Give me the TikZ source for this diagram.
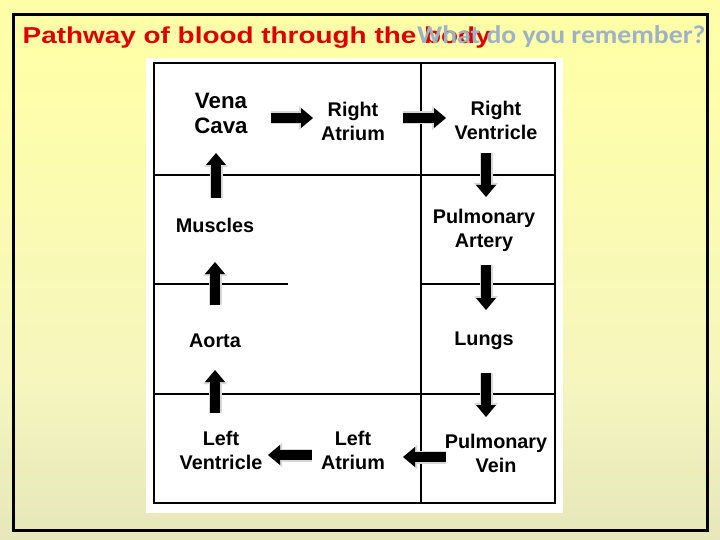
\documentclass[tikz,border=0pt]{standalone}
\usepackage{fontspec}
\setmainfont{Liberation Sans}
\newfontfamily\calib{Carlito}
\usetikzlibrary{arrows.meta}
\definecolor{bgtop}{RGB}{255,255,168}
\definecolor{bgmid}{RGB}{246,246,190}
\definecolor{bgbot}{RGB}{204,206,182}
\definecolor{titlered}{RGB}{222,0,0}
\definecolor{titlegray}{RGB}{158,178,198}
\definecolor{shadowgray}{RGB}{215,215,215}
\pgfdeclareverticalshading{bgshade}{100bp}{color(0bp)=(bgbot); color(40bp)=(bgmid); color(70bp)=(bgtop); color(100bp)=(bgtop)}
\tikzset{
  lbl/.style={font=\bfseries\fontsize{19.8}{24}\selectfont, align=center, inner sep=0pt},
  biglbl/.style={font=\bfseries\fontsize{22.3}{25}\selectfont, align=center, inner sep=0pt},
  grid/.style={line width=1.2pt, black},
  blkshadow/.style={line width=13pt, shadowgray, line cap=butt,
    -{Triangle[length=14pt,width=24pt,line width=0pt]}, shift={(1.5,1.5)}},
  blk/.style={line width=10pt, black, line cap=butt,
    -{Triangle[length=12pt,width=20pt,line width=0pt]}},
}
\newcommand{\blockarrow}[2]{%
  \draw[blkshadow] (#1) -- (#2);
  \draw[blk] (#1) -- (#2);}
\begin{document}
\begin{tikzpicture}[x=1pt,y=-1pt]
\useasboundingbox (0,0) rectangle (720,540);
\shade[shading=bgshade] (0,0) rectangle (720,540);
% outer frame
\draw[line width=3pt] (13.5,14.5) rectangle (707,530);
% title
\node[anchor=base west, inner sep=0pt, text=titlered, font=\bfseries\fontsize{23}{28}\selectfont] (title) at (22.5,43.3) {\scalebox{1.213}[1]{Pathway of blood through the body}};
\node[anchor=base west, inner sep=0pt, text=titlegray, font=\calib\bfseries\fontsize{25.5}{30}\selectfont] (subtitle) at (417,43.3) {\scalebox{1.087}[1]{What do you remember?}};
% white panel
\fill[white] (146,58) rectangle (563,513);
% table
\draw[grid] (154,63) rectangle (555,503);
\draw[grid] (421,63) -- (421,503);
\draw[grid] (154,175) -- (555,175);
\draw[grid] (154,284) -- (288,284);
\draw[grid] (421,284) -- (555,284);
\draw[grid] (154,394) -- (555,394);
% labels
\node[biglbl] (vc) at (221,113.5) {Vena\\Cava};
\node[lbl] (ra) at (353,121) {Right\\Atrium};
\node[lbl] (rv) at (496,120) {Right\\Ventricle};
\node[lbl] (mu) at (215,225) {Muscles};
\node[lbl] (pa) at (484,230) {Pulmonary\\Artery};
\node[lbl] (ao) at (215,341) {Aorta};
\node[lbl] (lu) at (484,341) {Lungs};
\node[lbl] (lv) at (221,450) {Left\\Ventricle};
\node[lbl] (la) at (353,450) {Left\\Atrium};
\node[lbl] (pv) at (496,453) {Pulmonary\\Vein};
% arrow end points
\coordinate (a1s) at (271,118); \coordinate (a1e) at (313,118);
\coordinate (a2s) at (403,118); \coordinate (a2e) at (446,118);
\coordinate (a3s) at (486,153); \coordinate (a3e) at (486,197);
\coordinate (a4s) at (486,265); \coordinate (a4e) at (486,310);
\coordinate (a5s) at (486,373); \coordinate (a5e) at (486,417);
\coordinate (a6s) at (446,457); \coordinate (a6e) at (403,457);
\coordinate (a7s) at (312,455); \coordinate (a7e) at (268,455);
\coordinate (a8s) at (215,413); \coordinate (a8e) at (215,370);
\coordinate (a9s) at (215,305); \coordinate (a9e) at (215,262);
\coordinate (a10s) at (216,198); \coordinate (a10e) at (216,153);
\blockarrow{a1s}{a1e}
\blockarrow{a2s}{a2e}
\blockarrow{a3s}{a3e}
\blockarrow{a4s}{a4e}
\blockarrow{a5s}{a5e}
\blockarrow{a6s}{a6e}
\blockarrow{a7s}{a7e}
\blockarrow{a8s}{a8e}
\blockarrow{a9s}{a9e}
\blockarrow{a10s}{a10e}
\end{tikzpicture}
\end{document}
